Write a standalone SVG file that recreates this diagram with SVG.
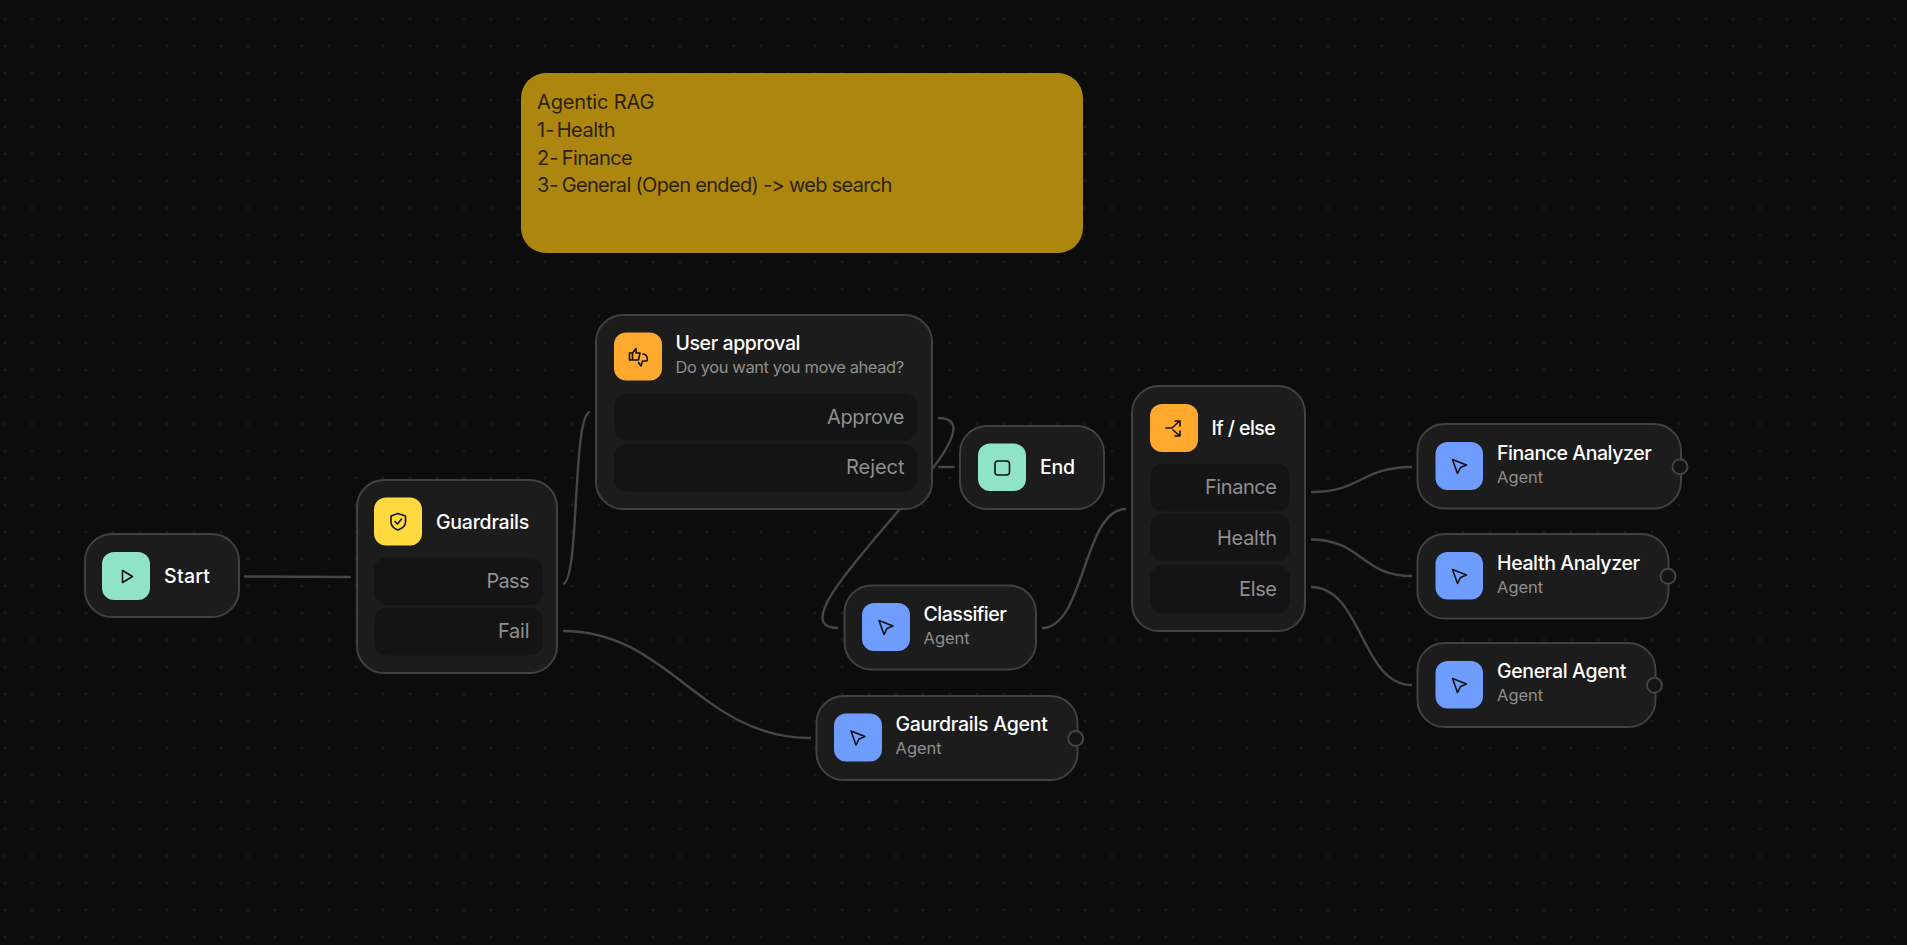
<svg xmlns="http://www.w3.org/2000/svg" width="1907" height="945" viewBox="0 0 1907 945">
<style>
text{font-family:Inter,"Liberation Sans",sans-serif;font-variant-ligatures:none;font-feature-settings:"calt" 0,"liga" 0}
.n{fill:#1c1c1c;stroke:#414141;stroke-width:2}
.r{fill:#141414}
.t{fill:#fff;font-size:19.5px;font-weight:550}
.s{fill:#8f8f8f;font-size:16.5px}
.o{fill:#8f8f8f;font-size:20px;text-anchor:end}
.nt{fill:#2b2309;font-size:20px}
.i{fill:none;stroke:#111;stroke-width:1.6;stroke-linejoin:round;stroke-linecap:round}
.h{fill:#141414;stroke:#444;stroke-width:2}
#connectors path{fill:none;stroke:#464646;stroke-width:2.4}
.blue{fill:#6f9dff}.mint{fill:#8fe3c6}.yel{fill:#ffd93d}.org{fill:#ffa92e}
</style>
<defs>
<pattern id="dots" width="27" height="27" patternUnits="userSpaceOnUse" x="-8.5" y="5.5"><circle cx="13.5" cy="13.5" r="1" fill="#2a2a2a"/></pattern>
<g id="cur" class="i"><path d="M-7,-6.500 L7,-1 L1,1.500 L-2,7.500 Z"/></g>
</defs>
<rect width="1907" height="945" fill="#0c0c0d"/>
<rect width="1907" height="945" fill="url(#dots)"/>
<g id="connectors">
<path d="M244,576.500 L350.700,577"/>
<path d="M563,584 C580,580 572,415 590,412"/>
<path d="M563,631 C670,631 700,738 811,738"/>
<path d="M938,418 C1018,418 758,628 838,628"/>
<path d="M938,467 L954.600,467"/>
<path d="M1042,628 C1085,628 1083,509 1126,509"/>
<path d="M1311,492 C1362,492 1361,467 1412,467"/>
<path d="M1311,539.500 C1362,539.500 1361,576 1412,576"/>
<path d="M1311,587 C1362,587 1361,685 1412,685"/>
</g>
<g id="note">
<rect x="521" y="73" width="562" height="180" rx="25" fill="#ad8610"/>
<text class="nt" x="537" y="109" textLength="117.300">Agentic RAG</text>
<text class="nt" x="537" y="137">1- <tspan x="556.700" textLength="59">Health</tspan></text>
<text class="nt" x="537" y="165">2- <tspan x="561.700" textLength="71">Finance</tspan></text>
<text class="nt" x="537" y="192">3- <tspan x="561.700" textLength="330.700">General (Open ended) -&gt; web search</tspan></text>
</g>
<g id="start">
<rect class="n" x="85" y="534" width="154" height="83" rx="27"/>
<rect class="mint" x="102" y="552" width="48" height="48" rx="12"/>
<path class="i" d="M122.500,570.500 L132.500,576.500 L122.500,582.500 Z"/>
<text class="t" x="164" y="583" textLength="46">Start</text>
</g>
<g id="guardrails">
<rect class="n" x="357" y="480" width="200" height="193" rx="27"/>
<rect class="yel" x="374" y="497.500" width="48" height="48" rx="12"/>
<path class="i" d="M398,513.500 L405.500,516 V522 C405.500,526 402,528.500 398,530 C394,528.500 391,526 391,522 V516 Z"/>
<path class="i" d="M395,521.500 L397.500,524 L401.500,519"/>
<text class="t" x="436" y="528.500" textLength="93.300">Guardrails</text>
<rect class="r" x="374" y="557.500" width="169" height="47.500" rx="13"/>
<text class="o" x="529.500" y="588" textLength="43">Pass</text>
<rect class="r" x="374" y="608" width="169" height="47.500" rx="13"/>
<text class="o" x="529.500" y="638" textLength="31.500">Fail</text>
</g>
<g id="user-approval">
<rect class="n" x="596" y="315" width="336" height="194" rx="27"/>
<rect class="org" x="614" y="332.500" width="48" height="48" rx="12"/>
<path class="i" d="M629.500,353 H632.500 V360 H629.500 Z M632.500,353 L636,348.500 V353 H640 L638.500,360 H632.500"/>
<path class="i" d="M643,354 C647,354 648,359 647,361 L642.500,361 L641,366 L638.500,362.500"/>
<text class="t" x="675.500" y="350" textLength="125">User approval</text>
<text class="s" x="675.500" y="373" textLength="228.700">Do you want you move ahead?</text>
<rect class="r" x="614" y="393.500" width="303.500" height="47" rx="13"/>
<text class="o" x="904.500" y="424" textLength="77.500">Approve</text>
<rect class="r" x="614" y="444" width="303.500" height="47.500" rx="13"/>
<text class="o" x="904.500" y="474" textLength="58.500">Reject</text>
</g>
<g id="end">
<rect class="n" x="960" y="426" width="144" height="83" rx="27"/>
<rect class="mint" x="978" y="443.500" width="48" height="47.500" rx="12"/>
<rect class="i" x="995" y="461" width="14.500" height="14" rx="3"/>
<text class="t" x="1040" y="474" textLength="35">End</text>
</g>
<g id="classifier">
<rect class="n" x="844.500" y="585.500" width="191.500" height="84" rx="27"/>
<rect class="blue" x="862" y="603" width="48" height="48" rx="12"/>
<use href="#cur" x="886" y="627"/>
<text class="t" x="923.500" y="621" textLength="83.300">Classifier</text>
<text class="s" x="923.500" y="644">Agent</text>
</g>
<g id="gaurdrails-agent">
<rect class="n" x="816.500" y="696" width="261" height="84" rx="27"/>
<rect class="blue" x="834" y="713.500" width="48" height="48" rx="12"/>
<use href="#cur" x="858" y="737.500"/>
<text class="t" x="895.500" y="731" textLength="152.300">Gaurdrails Agent</text>
<text class="s" x="895.500" y="754">Agent</text>
<circle class="h" cx="1075.700" cy="738.500" r="7.500"/>
</g>
<g id="if-else">
<rect class="n" x="1132" y="386" width="173" height="245" rx="27"/>
<rect class="org" x="1150" y="404" width="48" height="48" rx="12"/>
<path class="i" d="M1166,428 H1172 L1179,421.500 M1175,421 H1180 V426 M1173,430 L1180,436 M1180,431 V436 H1175"/>
<text class="t" x="1211.500" y="435" textLength="64.300">If / else</text>
<rect class="r" x="1150" y="464" width="140" height="47.500" rx="13"/>
<text class="o" x="1277" y="494" textLength="72">Finance</text>
<rect class="r" x="1150" y="514" width="140" height="47.500" rx="13"/>
<text class="o" x="1277" y="545" textLength="60">Health</text>
<rect class="r" x="1150" y="565.500" width="140" height="48" rx="13"/>
<text class="o" x="1277" y="596" textLength="38">Else</text>
</g>
<g id="finance-analyzer">
<rect class="n" x="1417.500" y="424" width="263.500" height="84.500" rx="27"/>
<rect class="blue" x="1435.500" y="442" width="47.500" height="48" rx="12"/>
<use href="#cur" x="1459.500" y="466"/>
<text class="t" x="1497" y="460" textLength="154.700">Finance Analyzer</text>
<text class="s" x="1497" y="483">Agent</text>
<circle class="h" cx="1680" cy="466.700" r="7.500"/>
</g>
<g id="health-analyzer">
<rect class="n" x="1417.500" y="534" width="251" height="84.500" rx="27"/>
<rect class="blue" x="1435.500" y="552" width="47.500" height="47.500" rx="12"/>
<use href="#cur" x="1459.500" y="576"/>
<text class="t" x="1497" y="570" textLength="143">Health Analyzer</text>
<text class="s" x="1497" y="593">Agent</text>
<circle class="h" cx="1668" cy="576.300" r="7.500"/>
</g>
<g id="general-agent">
<rect class="n" x="1417.500" y="643" width="238" height="84" rx="27"/>
<rect class="blue" x="1435.500" y="661" width="47.500" height="47.500" rx="12"/>
<use href="#cur" x="1459.500" y="685"/>
<text class="t" x="1497" y="678" textLength="129.300">General Agent</text>
<text class="s" x="1497" y="701">Agent</text>
<circle class="h" cx="1654.500" cy="685.300" r="7.500"/>
</g>
</svg>
